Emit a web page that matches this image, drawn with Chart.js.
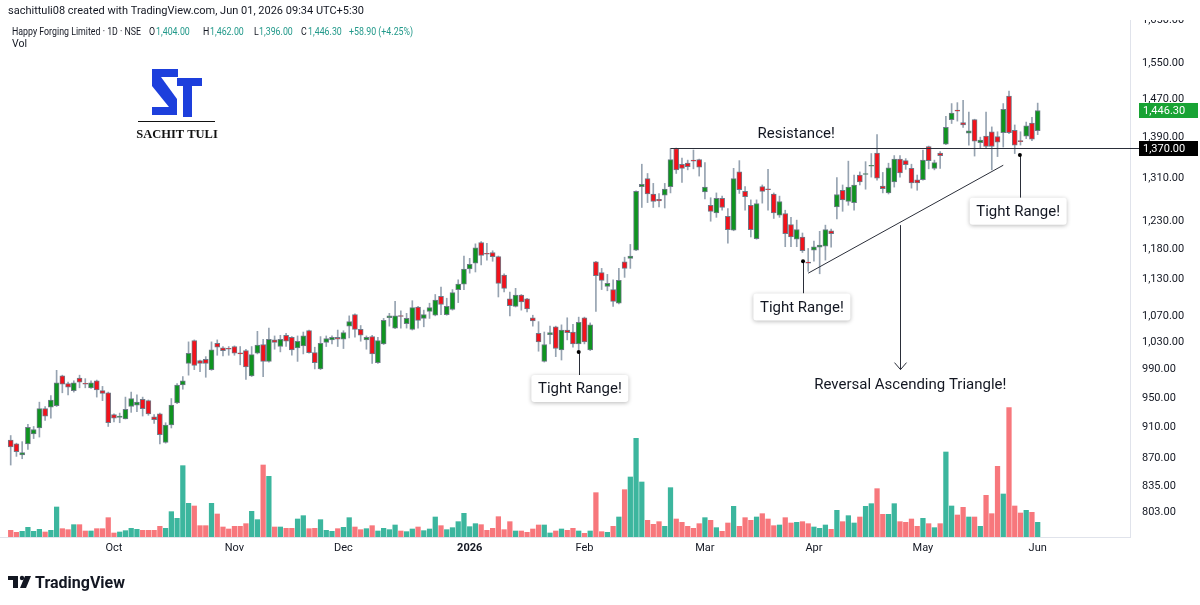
<!DOCTYPE html>
<html>
<head>
<meta charset="utf-8">
<script src="https://cdn.jsdelivr.net/npm/chart.js@4.4.1/dist/chart.umd.min.js"></script>
<style>
  html, body { margin: 0; padding: 0; background: #fff; }
  canvas { display: block; }
</style>
</head>
<body>
<canvas id="chart" width="1200" height="605"></canvas>
<script>
// Happy Forging Limited, 1D, NSE (Sep 2025 - Jun 2026)
const opens = [
  893,888,874,888,901,909,935,937,939,981,
  970,960,978,970,964,974,960,957,927,923,
  921,938,940,948,946,924,928,890,913,943,
  968,999,1033,1003,1005,990,1029,1022,1021,1024,
  1014,1018,981,1014,1027,1002,1034,1024,1041,1038,
  1022,1025,1048,1015,991,1030,1034,1038,1035,1055,
  1073,1050,1034,1039,1000,1028,1068,1052,1071,1059,
  1050,1085,1067,1078,1072,1102,1073,1081,1113,1122,
  1147,1157,1192,1173,1175,1168,1137,1098,1086,1104,
  1098,1068,1044,1002,1042,1054,1019,1049,1046,1028,
  1068,1019,1159,1141,1118,1113,1091,1159,1165,1179,
  1294,1309,1280,1270,1278,1294,1368,1337,1339,1344,
  1346,1284,1259,1245,1272,1239,1214,1322,1285,1259,
  1199,1294,1289,1280,1241,1244,1224,1198,1202,1158,
  1179,1184,1186,1213,1256,1287,1266,1264,1316,1317,
  1333,1359,1295,1282,1303,1347,1344,1329,1307,1307,
  1372,1329,1359,1377,1427,1446,1421,1399,1427,1380,
  1393,1402,1392,1400,1477,1405,1383,1393,1420,1404
];
const highs = [
  899,889,891,914,911,944,938,953,989,982,
  972,974,982,977,974,975,966,958,928,929,
  951,958,954,951,947,927,929,916,949,970,
  980,1031,1034,1004,1009,1031,1034,1024,1024,1025,
  1024,1020,1024,1047,1035,1052,1040,1041,1044,1039,
  1040,1046,1049,1023,1039,1040,1040,1049,1048,1071,
  1074,1056,1040,1041,1038,1067,1075,1094,1079,1075,
  1095,1086,1080,1091,1105,1117,1099,1113,1129,1169,
  1165,1190,1194,1191,1178,1169,1139,1109,1115,1105,
  1099,1072,1062,1046,1055,1055,1057,1068,1058,1069,
  1069,1060,1160,1148,1138,1129,1148,1167,1189,1286,
  1337,1319,1300,1281,1300,1368,1369,1349,1345,1365,
  1347,1340,1273,1282,1276,1253,1329,1344,1294,1269,
  1269,1297,1327,1282,1276,1250,1237,1232,1209,1182,
  1195,1212,1223,1216,1311,1297,1343,1316,1322,1342,
  1358,1396,1321,1339,1354,1354,1348,1337,1316,1365,
  1373,1345,1362,1434,1461,1463,1468,1443,1428,1391,
  1443,1412,1402,1461,1488,1416,1402,1422,1432,1462
];
const lows = [
  861,872,869,881,895,897,919,922,938,957,
  954,958,964,964,963,951,946,911,917,916,
  921,930,931,925,926,915,888,889,909,942,
  962,982,990,987,979,989,1011,1010,1011,1011,
  997,976,980,1013,980,1001,1020,1016,1024,1011,
  1002,1013,1014,991,990,1024,1028,1024,1021,1037,
  1038,1032,1020,999,999,1027,1055,1051,1052,1052,
  1049,1052,1054,1067,1071,1073,1072,1080,1092,1113,
  1140,1142,1154,1162,1160,1101,1109,1071,1085,1080,
  1077,1055,1017,1001,1028,1009,1004,1034,1023,1019,
  1028,1018,1078,1113,1111,1086,1090,1133,1148,1178,
  1255,1264,1255,1256,1254,1282,1319,1302,1326,1328,
  1314,1271,1230,1237,1250,1191,1213,1281,1250,1202,
  1198,1263,1250,1235,1237,1185,1185,1185,1175,1143,
  1160,1139,1162,1184,1234,1248,1259,1250,1297,1289,
  1312,1306,1282,1280,1293,1312,1327,1291,1287,1306,
  1328,1326,1329,1376,1419,1424,1411,1375,1353,1368,
  1368,1326,1352,1371,1398,1358,1375,1388,1384,1396
];
const closes = [
  884,878,877,910,907,935,925,947,971,969,
  965,971,972,969,971,961,956,916,922,925,
  934,949,944,935,928,920,900,913,940,968,
  974,1014,996,999,999,1019,1023,1018,1020,1014,
  1013,994,1012,1026,1002,1035,1030,1035,1032,1019,
  1032,1040,1015,1000,1029,1036,1038,1035,1045,1062,
  1050,1041,1038,1013,1033,1064,1071,1071,1070,1067,
  1084,1064,1073,1084,1096,1089,1086,1108,1122,1147,
  1155,1183,1170,1172,1168,1123,1115,1087,1104,1093,
  1082,1063,1031,1027,1045,1021,1049,1045,1028,1061,
  1031,1057,1136,1128,1123,1094,1128,1148,1169,1285,
  1298,1280,1266,1267,1289,1346,1326,1329,1332,1343,
  1331,1293,1248,1272,1255,1215,1309,1288,1275,1215,
  1262,1285,1288,1245,1266,1208,1202,1215,1178,1157,
  1185,1188,1215,1208,1279,1269,1293,1297,1303,1319,
  1335,1310,1290,1330,1347,1320,1336,1301,1301,1345,
  1344,1340,1354,1411,1441,1445,1416,1404,1383,1385,
  1372,1372,1381,1449,1400,1375,1382,1414,1387,1446.3
];
// volume in thousand shares (approx.)
const volumes = [
  20,14,17,29,17,23,15,20,90,25,
  22,37,37,18,18,25,25,58,12,15,
  19,26,23,20,20,20,32,26,76,56,
  214,101,93,34,34,101,69,30,24,32,
  32,40,77,52,216,182,30,30,26,26,
  54,64,25,26,52,20,17,25,29,58,
  30,22,25,34,18,26,22,36,18,16,
  24,30,19,24,60,34,22,28,46,71,
  31,40,37,20,26,61,22,46,18,18,
  14,24,36,36,12,18,24,20,26,18,
  11,18,133,16,14,32,60,142,180,296,
  165,50,38,46,32,148,54,44,32,26,
  40,58,50,28,17,42,92,32,58,50,
  60,70,54,34,36,58,42,44,46,40,
  30,26,36,23,80,46,64,42,60,92,
  100,145,68,68,100,46,44,54,32,56,
  40,28,40,255,93,66,89,60,60,32,
  125,70,212,129,388,93,72,80,74,44
];
const monthTickIdx = [18, 39, 58, 80, 100, 121, 140, 159, 179];
const monthTickLabels = ['Oct', 'Nov', 'Dec', '2026', 'Feb', 'Mar', 'Apr', 'May', 'Jun'];
const priceTicks = [803, 835, 870, 910, 950, 990, 1030, 1070, 1130, 1180, 1230, 1310, 1390, 1470, 1550, 1650];

const resistanceLevel = 1370;
const lastClose = 1446.3;
const trendLine = [[139, 1140], [173, 1335]];
const tightRanges = [
  { dot: [99, 1016], box: [99.2, 963] },
  { dot: [138.1, 1160], box: [137.9, 1085] },
  { dot: [175.9, 1355], box: [175.6, 1248] }
];

const UP = '#0f9420', DOWN = '#f2121b', EDGE = '#6f7a88', WICK = '#96a3b1';
const VOL_UP = '#3cb69e', VOL_DOWN = '#f7777c';
const FONT = 'Roboto, "Noto Sans", sans-serif';
const TXT = '#131722';

const idx = opens.map((_, i) => i);
const isUp = i => closes[i] >= opens[i];
const fmt = v => v.toLocaleString('en-US', { minimumFractionDigits: 2, maximumFractionDigits: 2 });

const overlay = {
  id: 'overlay',
  afterDraw(chart) {
    const ctx = chart.ctx;
    const xs = chart.scales.x, ys = chart.scales.y;
    const X = v => xs.getPixelForValue(v);
    const Y = v => ys.getPixelForValue(v);
    ctx.save();

    // resistance + trend line
    ctx.strokeStyle = '#2a2e39';
    ctx.lineWidth = 1;
    const ry = Math.round(Y(resistanceLevel)) + 0.5;
    ctx.beginPath();
    ctx.moveTo(X(115), ry);
    ctx.lineTo(1140, ry);
    ctx.moveTo(X(trendLine[0][0]), Y(trendLine[0][1]));
    ctx.lineTo(X(trendLine[1][0]), Y(trendLine[1][1]));
    ctx.stroke();

    // arrow
    const ax = Math.round(X(155)) + 0.5;
    const aTop = Y(1223), aBot = Y(990);
    ctx.beginPath();
    ctx.moveTo(ax, aTop);
    ctx.lineTo(ax, aBot);
    ctx.moveTo(ax - 6, aBot - 7);
    ctx.lineTo(ax, aBot);
    ctx.lineTo(ax + 6, aBot - 7);
    ctx.stroke();

    ctx.font = '15px ' + FONT;
    ctx.fillStyle = TXT;
    ctx.textAlign = 'center';
    ctx.textBaseline = 'middle';
    ctx.fillText('Resistance!', X(136.9), Y(1397));
    ctx.fillText('Reversal Ascending Triangle!', X(156.8), Y(968));

    // tight range callouts
    tightRanges.forEach(t => {
      const dx = X(t.dot[0]), dy = Y(t.dot[1]);
      const bx = X(t.box[0]), by = Y(t.box[1]);
      const w = 97, h = 27;
      ctx.strokeStyle = '#2a2e39';
      ctx.beginPath();
      ctx.moveTo(Math.round(dx) + 0.5, dy);
      ctx.lineTo(Math.round(dx) + 0.5, by - h / 2);
      ctx.stroke();
      ctx.fillStyle = '#000';
      ctx.beginPath();
      ctx.arc(dx, dy, 2, 0, Math.PI * 2);
      ctx.fill();
      ctx.save();
      ctx.shadowColor = 'rgba(0,0,0,0.28)';
      ctx.shadowBlur = 4;
      ctx.shadowOffsetY = 1;
      ctx.fillStyle = '#fff';
      ctx.beginPath();
      ctx.roundRect(bx - w / 2, by - h / 2, w, h, 3);
      ctx.fill();
      ctx.restore();
      ctx.fillStyle = TXT;
      ctx.fillText('Tight Range!', bx, by + 1);
    });

    // price labels on axis
    ctx.font = '11px ' + FONT;
    ctx.textAlign = 'left';
    const gy = Y(lastClose);
    ctx.fillStyle = '#18a334';
    ctx.fillRect(1139, gy - 7.5, 59, 15);
    ctx.fillStyle = '#fff';
    ctx.fillText(fmt(lastClose), 1143, gy + 0.5);
    ctx.fillStyle = '#000';
    ctx.fillRect(1139, ry - 7.5, 59, 15);
    ctx.fillStyle = '#fff';
    ctx.fillText(fmt(resistanceLevel), 1143, ry + 0.5);

    // header band
    ctx.fillStyle = '#fff';
    ctx.fillRect(0, 0, 1200, 20);
    ctx.fillStyle = TXT;
    ctx.textBaseline = 'alphabetic';
    ctx.fillText('sachittuli08 created with TradingView.com, Jun 01, 2026 09:34 UTC+5:30', 8, 14);
    ctx.font = '10.5px ' + FONT;
    const G = '#22998a';
    const legend = [
      ['Happy Forging Limited · 1D · NSE', 12, TXT],
      ['O', 149, TXT], ['1,404.00', 156, G],
      ['H', 203, TXT], ['1,462.00', 210, G],
      ['L', 254, TXT], ['1,396.00', 259, G],
      ['C', 301, TXT], ['1,446.30', 308, G],
      ['+58.90 (+4.25%)', 349, G]
    ];
    legend.forEach(([s, x, c]) => {
      ctx.save();
      ctx.translate(x, 35);
      ctx.scale(0.84, 1);
      ctx.fillStyle = c;
      ctx.fillText(s, 0, 0);
      ctx.restore();
    });
    ctx.fillStyle = TXT;
    ctx.fillText('Vol', 12, 47);

    // logo
    ctx.fillStyle = '#1d3fdc';
    ctx.fillRect(152, 69, 26, 8);
    ctx.beginPath();
    ctx.moveTo(152, 77); ctx.lineTo(161, 77); ctx.lineTo(177, 99);
    ctx.lineTo(177, 107); ctx.lineTo(169, 107); ctx.lineTo(152, 86);
    ctx.closePath(); ctx.fill();
    ctx.fillRect(152, 107, 25, 8);
    ctx.fillRect(177, 78, 25, 8);
    ctx.fillRect(183, 86, 9, 31);
    ctx.fillStyle = '#111';
    ctx.fillRect(138, 121, 77, 1);
    ctx.font = 'bold 12.5px "Liberation Serif", serif';
    ctx.textAlign = 'center';
    ctx.fillText('SACHIT TULI', 177, 138);

    // footer logo
    ctx.fillStyle = TXT;
    ctx.fillRect(8, 576, 10, 4);
    ctx.fillRect(13, 576, 5, 12);
    ctx.beginPath(); ctx.arc(22, 578, 2.2, 0, Math.PI * 2); ctx.fill();
    ctx.beginPath();
    ctx.moveTo(25, 576); ctx.lineTo(31, 576); ctx.lineTo(26, 588); ctx.lineTo(20, 588);
    ctx.closePath(); ctx.fill();
    ctx.font = 'bold 16px ' + FONT;
    ctx.textAlign = 'left';
    ctx.fillText('TradingView', 35, 588);
    ctx.restore();
  }
};

new Chart(document.getElementById('chart'), {
  type: 'bar',
  data: {
    datasets: [
      {
        label: 'Volume',
        data: idx.map(i => ({ x: i, y: volumes[i] })),
        yAxisID: 'yv',
        backgroundColor: idx.map(i => isUp(i) ? VOL_UP : VOL_DOWN),
        barThickness: 4.6,
        grouped: false,
        order: 3
      },
      {
        label: 'Wicks',
        data: idx.map(i => ({ x: i, y: [lows[i], highs[i]] })),
        yAxisID: 'y',
        backgroundColor: WICK,
        barThickness: 1,
        grouped: false,
        order: 2
      },
      {
        label: 'Bodies',
        data: idx.map(i => ({ x: i, y: [opens[i], closes[i]] })),
        yAxisID: 'y',
        backgroundColor: idx.map(i => isUp(i) ? UP : DOWN),
        borderColor: EDGE,
        borderWidth: 1,
        borderSkipped: false,
        barThickness: 5,
        minBarLength: 1,
        grouped: false,
        order: 1
      }
    ]
  },
  options: {
    responsive: false,
    animation: false,
    devicePixelRatio: 1,
    layout: { padding: { left: 0, top: 0, right: 0, bottom: 51 } },
    plugins: { legend: { display: false }, tooltip: { enabled: false } },
    scales: {
      x: {
        type: 'linear',
        offset: false,
        min: -1.865,
        max: 195.09,
        grid: { display: false, drawTicks: false, offset: false },
        border: { display: true, color: '#e0e3eb' },
        afterBuildTicks: s => { s.ticks = monthTickIdx.map(v => ({ value: v })); },
        afterFit: s => { s.height = 17; s.paddingLeft = 0; s.paddingRight = 0; },
        ticks: {
          autoSkip: false,
          maxRotation: 0,
          padding: 5,
          color: TXT,
          font: ctx => ({ family: FONT, size: 11, weight: ctx.tick && ctx.tick.value === 80 ? 'bold' : 'normal' }),
          callback: v => monthTickLabels[monthTickIdx.indexOf(v)]
        }
      },
      y: {
        type: 'logarithmic',
        position: 'right',
        min: 775,
        max: 1700,
        grid: { display: false, drawTicks: false },
        border: { display: true, color: '#e0e3eb' },
        afterBuildTicks: s => { s.ticks = priceTicks.map(v => ({ value: v })); },
        afterFit: s => { s.width = 70; s.paddingTop = 0; s.paddingBottom = 0; },
        ticks: {
          autoSkip: false,
          padding: 12,
          color: TXT,
          font: { family: FONT, size: 11 },
          callback: v => fmt(v)
        }
      },
      yv: {
        type: 'linear',
        display: false,
        min: 0,
        max: 1611
      }
    }
  },
  plugins: [overlay]
});
</script>
</body>
</html>
